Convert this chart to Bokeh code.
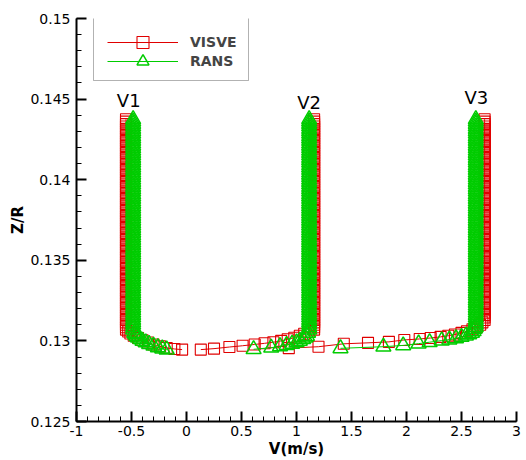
from bokeh.plotting import figure
from bokeh.models import (Legend, LegendItem, SingleIntervalTicker, BoxAnnotation,
                          CustomJSTickFormatter, ColumnDataSource)
from bokeh.core.properties import value
from bokeh.embed import file_html
from bokeh.resources import INLINE

# Outer-region grid levels (Z/R), shared by both solvers
z_outer = [
    0.1307, 0.13085, 0.131, 0.13115, 0.1313, 0.13145, 0.1316, 0.13175, 0.1319, 0.13205,
    0.1322, 0.13235, 0.1325, 0.13265, 0.1328, 0.13295, 0.1331, 0.13325, 0.1334, 0.13355,
    0.1337, 0.13385, 0.134, 0.13415, 0.1343, 0.13445, 0.1346, 0.13475, 0.1349, 0.13505,
    0.1352, 0.13535, 0.1355, 0.13565, 0.1358, 0.13595, 0.1361, 0.13625, 0.1364, 0.13655,
    0.1367, 0.13685, 0.137, 0.13715, 0.1373, 0.13745, 0.1376, 0.13775, 0.1379, 0.13805,
    0.1382, 0.13835, 0.1385, 0.13865, 0.1388, 0.13895, 0.1391, 0.13925, 0.1394, 0.13955,
    0.1397, 0.13985, 0.14, 0.14015, 0.1403, 0.14045, 0.1406, 0.14075, 0.1409, 0.14105,
    0.1412, 0.14135, 0.1415, 0.14165, 0.1418, 0.14195, 0.1421, 0.14225, 0.1424, 0.14255,
    0.1427, 0.14285, 0.143, 0.14315, 0.1433, 0.14345, 0.1436, 0.14375,
]

# VISVE near-wall samples per station (V in m/s, Z/R)
visve_v1_v = [-0.04, -0.11, -0.18, -0.24, -0.30, -0.35, -0.40, -0.44, -0.48, -0.51, -0.53]
visve_v1_z = [0.12946, 0.12950, 0.12956, 0.12966, 0.12978, 0.12990, 0.13004, 0.13018, 0.13032, 0.13046, 0.13058]
visve_v2_v = [0.13, 0.25, 0.39, 0.51, 0.62, 0.71, 0.79, 0.86, 0.92, 0.98, 1.03, 1.07, 1.11]
visve_v2_z = [0.12946, 0.12952, 0.12962, 0.12970, 0.12978, 0.12985, 0.12992, 0.13000, 0.13010, 0.13020, 0.13032, 0.13044, 0.13056]
visve_v3_v = [0.93, 1.20, 1.43, 1.65, 1.84, 1.98, 2.12, 2.22, 2.31, 2.38, 2.44, 2.50, 2.55, 2.60, 2.64, 2.67, 2.69]
visve_v3_z = [0.12955, 0.12964, 0.12982, 0.12988, 0.12994, 0.13006, 0.13012, 0.13018, 0.13025, 0.13032, 0.13040, 0.13050, 0.13060, 0.13072, 0.13086, 0.13100, 0.13115]
visve_outer_v = [-0.55, 1.16, 2.71]

# RANS near-wall samples per station (V in m/s, Z/R)
rans_v1_v = [-0.18, -0.22, -0.26, -0.30, -0.34, -0.37, -0.40, -0.42, -0.44, -0.455, -0.465, -0.475]
rans_v1_z = [0.12946, 0.12952, 0.12960, 0.12970, 0.12980, 0.12990, 0.13000, 0.13010, 0.13020, 0.13030, 0.13040, 0.13050]
rans_v2_v = [0.61, 0.77, 0.85, 0.91, 0.96, 1.00, 1.03, 1.06, 1.08, 1.095, 1.105]
rans_v2_z = [0.12948, 0.12958, 0.12966, 0.12974, 0.12982, 0.12990, 0.13000, 0.13010, 0.13020, 0.13030, 0.13050]
rans_v3_v = [1.40, 1.79, 1.97, 2.11, 2.21, 2.32, 2.39, 2.45, 2.50, 2.54, 2.57, 2.595, 2.61, 2.62]
rans_v3_z = [0.12954, 0.12964, 0.12972, 0.12983, 0.12992, 0.13002, 0.13008, 0.13016, 0.13024, 0.13032, 0.13040, 0.13050, 0.13060, 0.13075]
rans_outer_v = [-0.485, 1.115, 2.63]

station_labels = ["V1", "V2", "V3"]
label_v = [-0.525, 1.115, 2.635]
label_z = [0.14494, 0.14481, 0.14512]

RED = "#e00000"
GREEN = "#00cc00"


def profile(wall_v, wall_z, v_out):
    upper = [z for z in z_outer if z > wall_z[-1]]
    return wall_v + [v_out] * len(upper), wall_z + upper


p = figure(width=526, height=460, x_range=(-1, 3), y_range=(0.125, 0.15),
           output_backend="svg", toolbar_location=None,
           min_border_left=76, min_border_right=10,
           min_border_top=18, min_border_bottom=38,
           background_fill_color="white", border_fill_color="white")
p.outline_line_color = None
p.xgrid.visible = False
p.ygrid.visible = False

fmt = CustomJSTickFormatter(code="return String(parseFloat(tick.toFixed(4)));")
p.xaxis.ticker = SingleIntervalTicker(interval=0.5, num_minor_ticks=5)
p.yaxis.ticker = SingleIntervalTicker(interval=0.005, num_minor_ticks=5)
for ax in (p.xaxis, p.yaxis):
    ax.formatter = fmt
    ax.axis_line_width = 2
    ax.axis_line_color = "black"
    ax.major_tick_line_width = 2
    ax.major_tick_in = 10
    ax.major_tick_out = 0
    ax.minor_tick_in = 5
    ax.minor_tick_out = 0
    ax.minor_tick_line_width = 1
    ax.major_label_text_font = "DejaVu Sans"
    ax.major_label_text_font_size = "14px"
    ax.major_label_text_color = "black"
    ax.axis_label_text_font = "DejaVu Sans"
    ax.axis_label_text_font_size = "15px"
    ax.axis_label_text_font_style = "bold"
    ax.axis_label_text_color = "black"
p.xaxis.axis_label = "V(m/s)"
p.yaxis.axis_label = "Z/R"
p.xaxis.major_label_standoff = 4
p.xaxis.axis_label_standoff = 1
p.yaxis.major_label_standoff = 6
p.yaxis.axis_label_standoff = 0

visve = [(visve_v1_v, visve_v1_z), (visve_v2_v, visve_v2_z), (visve_v3_v, visve_v3_z)]
rans = [(rans_v1_v, rans_v1_z), (rans_v2_v, rans_v2_z), (rans_v3_v, rans_v3_z)]

legend_renderers = {}
for name, series, outer, color, marker, size, mlw in (
        ("VISVE", visve, visve_outer_v, RED, "square", 11, 1.1),
        ("RANS", rans, rans_outer_v, GREEN, "triangle", 15, 1.5)):
    for i, (wv, wz) in enumerate(series):
        v, z = profile(wv, wz, outer[i])
        src = ColumnDataSource(dict(v=v, z=z))
        ln = p.line("v", "z", source=src, line_color=color, line_width=1)
        sc = p.scatter("v", "z", source=src, marker=marker, size=size,
                       line_color=color, line_width=mlw, fill_color=None)
        if i == 0:
            legend_renderers[name] = [ln, sc]

lab_src = ColumnDataSource(dict(x=label_v, y=label_z, t=station_labels))
p.text("x", "y", text="t", source=lab_src, text_font=value("DejaVu Sans"),
       text_font_size="18px", text_align="center", text_baseline="middle",
       text_color="black")

# legend frame, then one borderless entry per series stacked inside it
p.add_layout(BoxAnnotation(left=17, right=172, top=406, bottom=341,
                           left_units="screen", right_units="screen",
                           top_units="screen", bottom_units="screen",
                           fill_color="white", fill_alpha=1,
                           line_color="black", line_width=1))
for name, y0 in (("VISVE", 364), ("RANS", 345)):
    lg = Legend(items=[LegendItem(label=name, renderers=legend_renderers[name])],
                location=(31, y0), margin=0, padding=0, spacing=0,
                glyph_width=71, glyph_height=30, label_height=16,
                label_standoff=12, label_text_font="DejaVu Sans",
                label_text_font_size="14px", label_text_font_style="bold",
                border_line_color=None, background_fill_alpha=0)
    p.add_layout(lg)

open("out.html", "w").write(file_html(p, INLINE))
